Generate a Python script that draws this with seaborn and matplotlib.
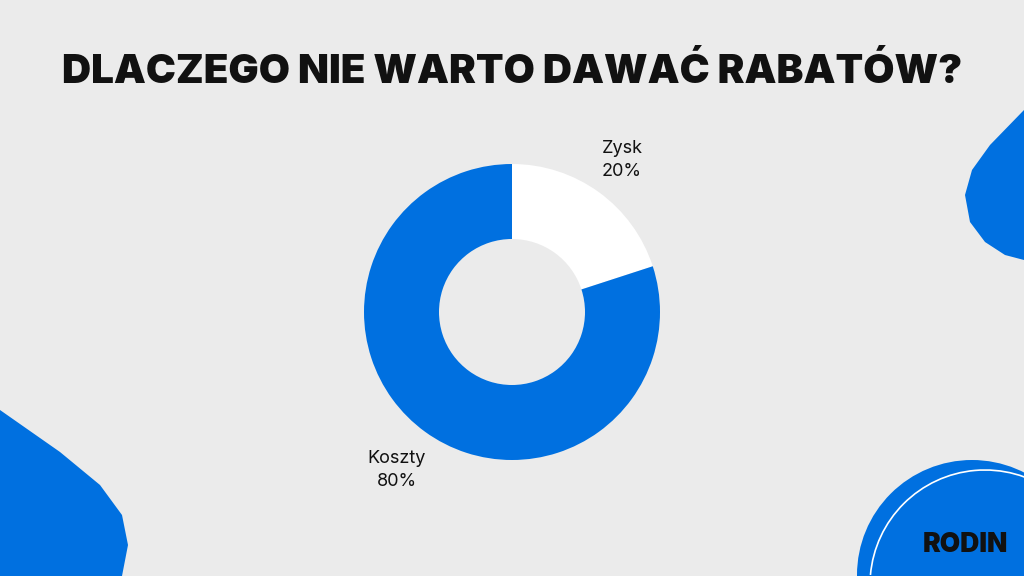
import matplotlib
matplotlib.use("Agg")
import matplotlib.pyplot as plt
import seaborn as sns
from matplotlib.patches import Circle, Polygon, Arc

labels = ["Zysk", "Koszty"]
shares = [20, 80]
colors = ["#ffffff", "#0070e0"]

sns.set_theme(style="white")
plt.rcParams['font.family'] = ['Inter', 'DejaVu Sans']

fig = plt.figure(figsize=(10.24, 5.76), dpi=100, facecolor="#ebebeb")
ax = fig.add_axes([0, 0, 1, 1])
ax.set_facecolor("#ebebeb")

blue = "#0070e0"
# decorative shapes
ax.add_patch(Polygon([(1024, 110), (990, 145), (972, 170), (965, 195), (970, 222),
                      (985, 242), (1005, 255), (1024, 260)], closed=True, color=blue, lw=0))
ax.add_patch(Polygon([(0, 410), (60, 452), (100, 485), (122, 515), (128, 545),
                      (122, 576), (0, 576)], closed=True, color=blue, lw=0))
ax.add_patch(Circle((972, 575), 115, color=blue, lw=0))
ax.add_patch(Arc((985, 585), 230, 230, theta1=15, theta2=175, color="white", lw=1.2))
ax.text(965, 545, "RODIN", fontsize=19, fontweight="black", color="#111111",
        ha="center", va="center")

# donut
wedges, _ = ax.pie(shares, colors=colors, startangle=90, counterclock=False,
                   center=(512, -312), radius=148,
                   wedgeprops=dict(width=75, linewidth=0))

ax.text(622, 160, "Zysk\n20%", ha="center", va="center", fontsize=13,
        color="#111111", linespacing=1.4)
ax.text(397, 470, "Koszty\n80%", ha="center", va="center", fontsize=13,
        color="#111111", linespacing=1.4)

ax.text(512, 72, "DLACZEGO NIE WARTO DAWAĆ RABATÓW?", ha="center", va="center",
        fontsize=29, fontweight="black", color="#111111")

ax.set_xlim(0, 1024)
ax.set_ylim(-576, 0)
ax.set_aspect("auto")
ax.axis("off")

# flip y for texts/shapes given in pixel coords
for p in ax.patches:
    if p not in wedges:
        if isinstance(p, Polygon):
            xy = p.get_xy()
            xy[:, 1] = -xy[:, 1]
            p.set_xy(xy)
        else:
            cx, cy = p.center
            p.center = (cx, -cy)
for t in ax.texts:
    x, y = t.get_position()
    t.set_position((x, -y))

fig.savefig("out.png", dpi=100, facecolor=fig.get_facecolor())
